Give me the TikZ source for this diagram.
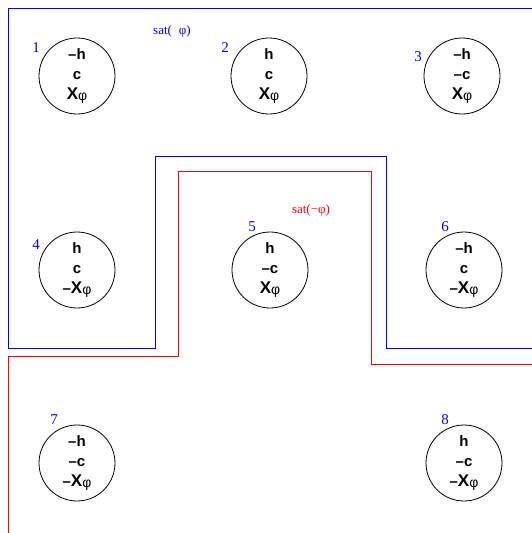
\documentclass[tikz,border=0pt]{standalone}
\usepackage{fontspec}
\setmainfont{Liberation Serif}
\newfontfamily\cfont{Liberation Sans}
\begin{document}
\begin{tikzpicture}[x=1pt,y=-1pt,
  world/.style={circle,draw,line width=0.8pt,minimum size=76pt,inner sep=0pt,
     font=\cfont\fontsize{15}{20}\selectfont\bfseries,align=center},
  num/.style={text=blue,font=\fontsize{15}{15}\selectfont,inner sep=0pt},
  satl/.style={font=\fontsize{13}{13}\selectfont,inner sep=0pt},
  bnd/.style={line width=0.9pt}]
\useasboundingbox (0,0) rectangle (532,533);
\newcommand{\xp}{{\fontsize{17}{20}\selectfont X}\textmd{\raisebox{-1.5pt}{\fontsize{14}{14}\selectfont φ}}}
\node[world] (w1) at (77,76) {–h\\c\\\xp};
\node[world] (w2) at (269,76) {h\\c\\\xp};
\node[world] (w3) at (462,76) {–h\\–c\\\xp};
\node[world] (w4) at (77,270) {h\\c\\–\xp};
\node[world] (w5) at (270,270) {h\\–c\\\xp};
\node[world] (w6) at (464,270) {–h\\c\\–\xp};
\node[world] (w7) at (77,463) {–h\\–c\\–\xp};
\node[world] (w8) at (464,463) {h\\–c\\–\xp};
\node[num] (n1) at (36,48) {1};
\node[num] (n2) at (225,48) {2};
\node[num] (n3) at (418,57) {3};
\node[num] (n4) at (36,245) {4};
\node[num] (n5) at (252,227) {5};
\node[num] (n6) at (445,227) {6};
\node[num] (n7) at (54,420) {7};
\node[num] (n8) at (445,420) {8};
\node[satl,text=blue] (s1) at (172,31) {sat(\hspace{7pt}φ)};
\node[satl,text=red] (s2) at (311,210) {sat(−φ)};
\draw[bnd,blue] (532,8) -- (8,8) -- (8,348) -- (155,348) -- (155,156) -- (386,156) -- (386,348) -- (532,348);
\draw[bnd,red] (8,533) -- (8,356) -- (178,356) -- (178,171) -- (371,171) -- (371,364) -- (532,364);
\end{tikzpicture}
\end{document}
